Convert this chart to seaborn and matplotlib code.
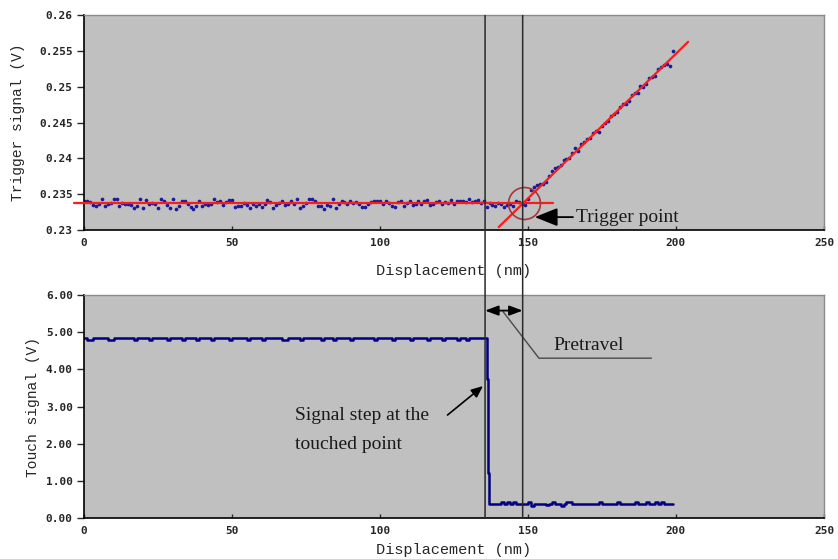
import numpy as np
import pandas as pd
import seaborn as sns
import matplotlib.pyplot as plt
from matplotlib.patches import ConnectionPatch

# ---- data ----
# trigger signal samples, one per nm
trigger_v = [
    0.2340, 0.2341, 0.2339, 0.2335, 0.2333, 0.2337, 0.2344, 0.2333, 0.2336, 0.2338,
    0.2343, 0.2343, 0.2333, 0.2338, 0.2336, 0.2337, 0.2335, 0.2331, 0.2334, 0.2343,
    0.2331, 0.2342, 0.2336, 0.2338, 0.2337, 0.2331, 0.2344, 0.2341, 0.2335, 0.2331,
    0.2343, 0.2330, 0.2334, 0.2340, 0.2340, 0.2337, 0.2332, 0.2330, 0.2334, 0.2341,
    0.2334, 0.2336, 0.2335, 0.2337, 0.2343, 0.2339, 0.2341, 0.2335, 0.2339, 0.2342,
    0.2342, 0.2332, 0.2333, 0.2333, 0.2338, 0.2335, 0.2331, 0.2336, 0.2333, 0.2337,
    0.2332, 0.2336, 0.2342, 0.2339, 0.2331, 0.2335, 0.2338, 0.2340, 0.2335, 0.2336,
    0.2340, 0.2336, 0.2344, 0.2331, 0.2333, 0.2338, 0.2343, 0.2343, 0.2341, 0.2333,
    0.2334, 0.2330, 0.2335, 0.2334, 0.2343, 0.2331, 0.2336, 0.2341, 0.2339, 0.2336,
    0.2341, 0.2338, 0.2339, 0.2336, 0.2332, 0.2332, 0.2336, 0.2339, 0.2341, 0.2341,
    0.2340, 0.2336, 0.2340, 0.2338, 0.2334, 0.2332, 0.2339, 0.2340, 0.2333, 0.2338,
    0.2341, 0.2335, 0.2336, 0.2340, 0.2337, 0.2341, 0.2342, 0.2335, 0.2337, 0.2339,
    0.2341, 0.2336, 0.2339, 0.2338, 0.2342, 0.2336, 0.2340, 0.2341, 0.2340, 0.2339,
    0.2343, 0.2339, 0.2340, 0.2342, 0.2338, 0.2340, 0.2332, 0.2338, 0.2335, 0.2333,
    0.2338, 0.2336, 0.2332, 0.2335, 0.2337, 0.2333, 0.2340, 0.2339,
    0.2337, 0.2335, 0.2344, 0.2356, 0.2360, 0.2363, 0.2364, 0.2365, 0.2367, 0.2375,
    0.2383, 0.2386, 0.2388, 0.2391, 0.2398, 0.2399, 0.2400, 0.2408, 0.2414, 0.2411,
    0.2420, 0.2423, 0.2427, 0.2428, 0.2435, 0.2438, 0.2437, 0.2446, 0.2450, 0.2452,
    0.2460, 0.2462, 0.2465, 0.2472, 0.2476, 0.2476, 0.2481, 0.2489, 0.2491, 0.2492,
    0.2501, 0.2500, 0.2504, 0.2512, 0.2514, 0.2516, 0.2525, 0.2528, 0.2531, 0.2532,
    0.2530, 0.2551,
]
trigger_x = np.arange(len(trigger_v))

# fitted lines
base_level = 0.2338
slope = 0.000405
trigger_pt = 148.5
flat_range = (-3.4, 158.3)
ramp_range = (140.1, 204.1)

# touch signal
touch_before = [
    4.83, 4.78, 4.78, 4.83, 4.83, 4.83, 4.83, 4.83, 4.78, 4.78,
    4.83, 4.83, 4.83, 4.83, 4.83, 4.83, 4.83, 4.78, 4.83, 4.83,
    4.83, 4.83, 4.78, 4.83, 4.83, 4.83, 4.83, 4.83, 4.78, 4.83,
    4.83, 4.83, 4.83, 4.78, 4.83, 4.83, 4.83, 4.83, 4.78, 4.83,
    4.83, 4.83, 4.83, 4.78, 4.83, 4.83, 4.83, 4.83, 4.83, 4.78,
    4.83, 4.83, 4.83, 4.83, 4.83, 4.78, 4.83, 4.83, 4.83, 4.83,
    4.78, 4.83, 4.83, 4.83, 4.83, 4.83, 4.83, 4.78, 4.78, 4.83,
    4.83, 4.83, 4.83, 4.78, 4.83, 4.83, 4.83, 4.83, 4.83, 4.83,
    4.78, 4.83, 4.83, 4.83, 4.78, 4.83, 4.83, 4.83, 4.83, 4.83,
    4.78, 4.83, 4.83, 4.83, 4.83, 4.83, 4.83, 4.83, 4.78, 4.83,
    4.83, 4.83, 4.83, 4.83, 4.78, 4.83, 4.83, 4.83, 4.83, 4.83,
    4.78, 4.83, 4.83, 4.83, 4.83, 4.83, 4.78, 4.83, 4.83, 4.83,
    4.83, 4.78, 4.83, 4.83, 4.83, 4.83, 4.78, 4.83, 4.83, 4.78,
    4.83, 4.83, 4.83, 4.83, 4.83, 4.83,
]
drop_x = [136.0, 136.4, 136.8]
drop_v = [3.75, 1.22, 0.38]
touch_after = [
    0.38, 0.38, 0.38, 0.38, 0.42, 0.38, 0.42, 0.38, 0.42, 0.38,
    0.38, 0.38, 0.38, 0.42, 0.33, 0.38, 0.38, 0.38, 0.38, 0.35,
    0.38, 0.42, 0.38, 0.38, 0.33, 0.38, 0.42, 0.42, 0.38, 0.38,
    0.38, 0.38, 0.38, 0.38, 0.38, 0.38, 0.38, 0.42, 0.38, 0.38,
    0.38, 0.38, 0.38, 0.42, 0.38, 0.38, 0.38, 0.38, 0.38, 0.42,
    0.38, 0.38, 0.38, 0.42, 0.38, 0.38, 0.42, 0.38, 0.42, 0.38,
    0.38, 0.38, 0.38,
]
touch_x = list(range(0, 136)) + drop_x + list(range(137, 200))
touch_v = touch_before + drop_v + touch_after

touch_point = 135.5
pretravel_end = 148.2

# ---- plotting ----
sns.set_style('white')
plt.rcParams['font.family'] = ['DejaVu Sans']

fig = plt.figure(figsize=(8.38, 5.59), dpi=100)
ax1 = fig.add_axes([0.1002, 0.5886, 0.8831, 0.3837])
ax2 = fig.add_axes([0.1002, 0.0733, 0.8831, 0.3990])

bg = '#c0c0c0'
navy = '#000080'
serif = 'Liberation Serif'
mono = 'Liberation Mono'
ink = '#1a1a1a'

df_trig = pd.DataFrame({'x': trigger_x, 'v': trigger_v})
sns.scatterplot(data=df_trig, x='x', y='v', ax=ax1, color='#1a1a9a', s=7,
                marker='o', linewidth=0, zorder=2)

fx = np.array(flat_range)
ax1.plot(fx, [base_level, base_level], color='#ff1a1a', lw=1.6, zorder=3, clip_on=False)
rx = np.array(ramp_range)
ax1.plot(rx, base_level + slope * (rx - trigger_pt), color='#ff1a1a', lw=1.6, zorder=3)
ax1.plot([trigger_pt], [base_level], 'o', mfc='none', mec='#a03a3a', ms=23, mew=1.2, zorder=4)
ax1.annotate('Trigger point', xy=(152.3, 0.2318), xytext=(166.3, 0.2318),
             ha='left', va='center', fontsize=14, family=serif, color=ink,
             arrowprops=dict(arrowstyle='-|>,head_length=1.0,head_width=0.4',
                             color='black', lw=1.3, shrinkA=0, shrinkB=0))

df_touch = pd.DataFrame({'x': touch_x, 'v': touch_v})
sns.lineplot(data=df_touch, x='x', y='v', ax=ax2, color=navy, lw=1.8,
             estimator=None, sort=False, drawstyle='steps-post')

ax2.annotate('', xy=(touch_point, 5.58), xytext=(pretravel_end, 5.58),
             arrowprops=dict(arrowstyle='<|-|>,head_length=0.8,head_width=0.3',
                             color='black', lw=1.3, shrinkA=0, shrinkB=0))
ax2.plot([141.6, 153.7, 191.7], [5.55, 4.30, 4.30], color='#4a4a4a', lw=1)
ax2.text(158.7, 4.63, 'Pretravel', fontsize=14, family=serif, va='center', ha='left', color=ink)

ax2.text(71.3, 2.77, 'Signal step at the', fontsize=14, family=serif, va='center', ha='left', color=ink)
ax2.text(71.3, 1.97, 'touched point', fontsize=14, family=serif, va='center', ha='left', color=ink)
ax2.annotate('', xy=(134.8, 3.55), xytext=(122.8, 2.77),
             arrowprops=dict(arrowstyle='-|>,head_length=0.7,head_width=0.3',
                             color='black', lw=1.2, shrinkA=0, shrinkB=0))

# vertical marker lines spanning both panels
for xv in (touch_point, pretravel_end):
    con = ConnectionPatch(xyA=(xv, 0.26), coordsA=ax1.transData,
                          xyB=(xv, 0.0), coordsB=ax2.transData,
                          color='#2a2a2a', lw=1.1, zorder=5)
    fig.add_artist(con)

ax1.set_xlim(0, 250)
ax1.set_ylim(0.23, 0.26)
ax1.set_yticks([0.23, 0.235, 0.24, 0.245, 0.25, 0.255, 0.26])
ax1.set_yticklabels(['0.23', '0.235', '0.24', '0.245', '0.25', '0.255', '0.26'])
ax2.set_xlim(0, 250)
ax2.set_ylim(0, 6)
ax2.set_yticks([0, 1, 2, 3, 4, 5, 6])
ax2.set_yticklabels(['0.00', '1.00', '2.00', '3.00', '4.00', '5.00', '6.00'])

ax1.set_ylabel('Trigger signal (V)', family=mono, fontsize=10.5, labelpad=10)
ax2.set_ylabel('Touch signal (V)', family=mono, fontsize=10.5, labelpad=4)
ax1.set_xlabel('Displacement (nm)', family=mono, fontsize=11, labelpad=11)
ax2.set_xlabel('Displacement (nm)', family=mono, fontsize=11, labelpad=5)

for ax in (ax1, ax2):
    ax.set_facecolor(bg)
    ax.set_xticks([0, 50, 100, 150, 200, 250])
    ax.tick_params(axis='x', direction='in', length=3, width=1, pad=6, bottom=True)
    ax.tick_params(axis='y', direction='out', length=5, width=1, pad=3, left=True)
    for lab in ax.get_xticklabels() + ax.get_yticklabels():
        lab.set_family('DejaVu Sans Mono')
        lab.set_fontweight('bold')
        lab.set_fontsize(8)
    ax.spines['left'].set_color('black')
    ax.spines['bottom'].set_color('black')
    ax.spines['left'].set_linewidth(1.2)
    ax.spines['bottom'].set_linewidth(1.2)
    ax.spines['top'].set_color('#8a8a8a')
    ax.spines['right'].set_color('#8a8a8a')
    ax.spines['top'].set_linewidth(1)
    ax.spines['right'].set_linewidth(1)

fig.savefig('out.png', dpi=100, facecolor='white')
